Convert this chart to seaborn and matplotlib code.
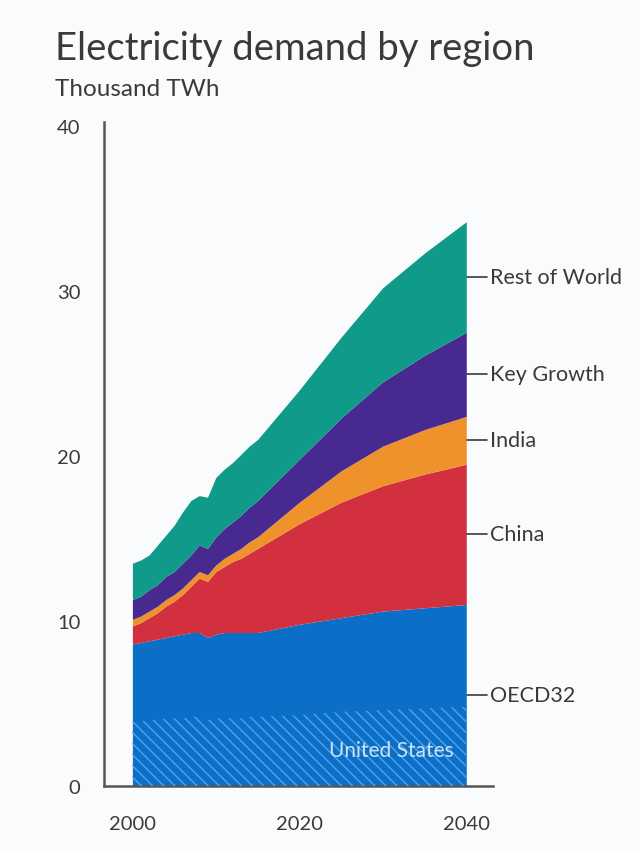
import matplotlib
matplotlib.use("Agg")
import matplotlib.pyplot as plt
import seaborn as sns
import numpy as np

# Electricity demand, thousand TWh
years = [2000, 2001, 2002, 2003, 2004, 2005, 2006, 2007, 2008, 2009,
         2010, 2011, 2012, 2013, 2014, 2015, 2020, 2025, 2030, 2035, 2040]
oecd32 = [8.6, 8.7, 8.8, 8.9, 9.0, 9.1, 9.2, 9.3, 9.3, 9.0,
          9.2, 9.3, 9.3, 9.3, 9.3, 9.3, 9.8, 10.2, 10.6, 10.8, 11.0]
china = [1.1, 1.2, 1.4, 1.6, 1.9, 2.1, 2.4, 2.8, 3.3, 3.4,
         3.8, 4.0, 4.3, 4.5, 4.8, 5.1, 6.1, 7.0, 7.6, 8.1, 8.5]
india = [0.4, 0.4, 0.4, 0.4, 0.4, 0.4, 0.4, 0.4, 0.4, 0.4,
         0.4, 0.5, 0.5, 0.6, 0.7, 0.7, 1.3, 1.9, 2.4, 2.7, 2.9]
key_growth = [1.2, 1.2, 1.3, 1.3, 1.4, 1.4, 1.5, 1.5, 1.6, 1.6,
              1.7, 1.8, 1.9, 2.0, 2.1, 2.2, 2.6, 3.2, 3.9, 4.5, 5.1]
rest_of_world = [2.2, 2.2, 2.1, 2.4, 2.5, 2.8, 3.1, 3.3, 3.0, 3.1,
                 3.6, 3.6, 3.6, 3.7, 3.7, 3.7, 4.2, 4.9, 5.7, 6.2, 6.7]
united_states = [3.9, 3.9, 4.0, 4.0, 4.1, 4.1, 4.1, 4.2, 4.2, 4.0,
                 4.1, 4.1, 4.1, 4.1, 4.2, 4.2, 4.3, 4.5, 4.6, 4.7, 4.8]

region_labels = ["OECD32", "China", "India", "Key Growth", "Rest of World"]
region_colors = ["#0b6fc8", "#d3303f", "#f0922c", "#47298f", "#109a8a"]
x_ticks = [2000, 2020, 2040]
y_ticks = [0, 10, 20, 30, 40]

bg = "#fafbfc"
ink = "#3a3a3a"

sns.set_theme(style="white", rc={"axes.facecolor": bg, "figure.facecolor": bg})
plt.rcParams["font.family"] = ["Lato", "DejaVu Sans"]
plt.rcParams["hatch.linewidth"] = 1.1

fig = plt.figure(figsize=(6.4, 8.53), dpi=100)
ax = fig.add_axes([0.1625, 0.0774, 0.6078, 0.7784])

series = [oecd32, china, india, key_growth, rest_of_world]
ax.stackplot(years, *series, colors=region_colors, linewidth=0, zorder=2)

# United States share of OECD32, hatched
ax.fill_between(years, 0, united_states, facecolor="none", edgecolor="#4a9fe8",
                hatch="\\\\\\", linewidth=0, zorder=3)
ax.text(2031, 2.2, "United States", color="#cfe2f3", fontsize=15,
        ha="center", va="center", zorder=4)

# Right-hand labels at the middle of each band in 2040
tops = np.cumsum([s[-1] for s in series])
bottoms = np.concatenate([[0], tops[:-1]])
for lab, lo, hi in zip(region_labels, bottoms, tops):
    y = (lo + hi) / 2
    if lab == "OECD32":
        y = 5.5
    ax.plot([2040.1, 2042.5], [y, y], color=ink, lw=1.2, clip_on=False, zorder=5)
    ax.text(2042.8, y, lab, color=ink, fontsize=15.5, ha="left", va="center")

ax.set_xlim(1996.6, 2043.2)
ax.set_ylim(0, 40.24)
ax.set_xticks(x_ticks)
ax.set_yticks(y_ticks)
ax.tick_params(axis="both", length=0, labelsize=14.5, labelcolor=ink)
ax.tick_params(axis="y", pad=17)
ax.tick_params(axis="x", pad=21)

sns.despine(ax=ax)
for side in ["left", "bottom"]:
    ax.spines[side].set_color("#555555")
    ax.spines[side].set_linewidth(1.8)

fig.text(0.086, 0.93, "Electricity demand by region", fontsize=27.5, color=ink,
         ha="left", va="baseline")
fig.text(0.086, 0.888, "Thousand TWh", fontsize=17.5, color=ink,
         ha="left", va="baseline")

fig.savefig("out.png", dpi=100, facecolor=bg)
